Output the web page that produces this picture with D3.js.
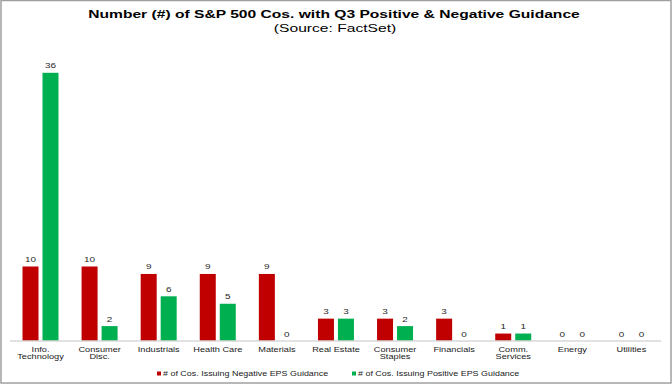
<!DOCTYPE html>
<html>
<head>
<meta charset="utf-8">
<script src="https://cdn.jsdelivr.net/npm/d3@7"></script>
<style>
  body { margin: 0; background: #fff; }
  svg { display: block; font-family: "Liberation Sans", Arial, sans-serif; }
</style>
</head>
<body>
<div id="chart"></div>
<script>
// data
let categories = ["Info.\nTechnology", "Consumer\nDisc.", "Industrials", "Health Care", "Materials",
    "Real Estate", "Consumer\nStaples", "Financials", "Comm.\nServices", "Energy", "Utilities"];
let negative = [10, 10, 9, 9, 9, 3, 3, 3, 1, 0, 0];
let positive = [36, 2, 6, 5, 0, 3, 2, 0, 1, 0, 0];
let seriesNames = ["# of Cos. Issuing Negative EPS Guidance", "# of Cos. Issuing Positive EPS Guidance"];
let colors = ["#c00000", "#00b050"];

let width = 672, height = 384;
// the source picture is stretched sideways, so text gets stretched too
let SX = 1.42;

let svg = d3.select("#chart").append("svg")
    .attr("width", width)
    .attr("height", height);

// outer frame
svg.append("rect")
    .attr("x", 1).attr("y", 0.5)
    .attr("width", 670).attr("height", 382.5)
    .attr("fill", "none")
    .attr("stroke", "#a0a0a0")
    .attr("stroke-width", 1.5);

function wideText(g, x, y, size) {
    return g.append("text")
        .attr("transform", `translate(${x},${y}) scale(${SX},1)`)
        .attr("font-size", size);
}

// titles
wideText(svg, 334, 17.5, 11).attr("text-anchor", "middle")
    .attr("font-weight", "bold").attr("fill", "#000")
    .text("Number (#) of S&P 500 Cos. with Q3 Positive & Negative Guidance");
wideText(svg, 335, 32, 11).attr("text-anchor", "middle")
    .attr("fill", "#000")
    .text("(Source: FactSet)");

let x = d3.scaleBand()
    .domain(categories)
    .range([11, 661]);

let x1 = d3.scaleBand()
    .domain([0, 1])
    .range([11.5, 47.5])
    .paddingInner(0.2);

let y = d3.scaleLinear()
    .domain([0, 40])
    .range([341, 43]);

let rows = categories.map((c, i) => ({ cat: c, vals: [negative[i], positive[i]] }));

let groups = svg.selectAll(".cat")
    .data(rows)
    .join("g")
    .attr("class", "cat")
    .attr("transform", d => `translate(${x(d.cat)},0)`);

groups.selectAll("rect")
    .data(d => d.vals)
    .join("rect")
    .attr("x", (d, i) => x1(i))
    .attr("y", d => y(d))
    .attr("width", x1.bandwidth())
    .attr("height", d => y(0) - y(d))
    .attr("fill", (d, i) => colors[i]);

// value labels
groups.each(function(d) {
    let g = d3.select(this);
    d.vals.forEach((v, i) => {
        wideText(g, x1(i) + x1.bandwidth() / 2, y(v) - 4.5, 7)
            .attr("text-anchor", "middle")
            .attr("fill", "#262626")
            .text(v);
    });
});

// axis line
svg.append("line")
    .attr("x1", 10).attr("x2", 661)
    .attr("y1", y(0)).attr("y2", y(0))
    .attr("stroke", "#d9d9d9")
    .attr("stroke-width", 1.5);

// category labels
categories.forEach(c => {
    let t = wideText(svg, x(c) + x.bandwidth() / 2, 352, 6.5)
        .attr("text-anchor", "middle")
        .attr("fill", "#1a1a1a");
    c.split("\n").forEach((line, j) => {
        t.append("tspan").attr("x", 0).attr("dy", j ? 7.5 : 0).text(line);
    });
});

// legend
let legendX = [157, 352];
seriesNames.forEach((name, i) => {
    svg.append("rect")
        .attr("x", legendX[i]).attr("y", 371.5)
        .attr("width", 4).attr("height", 4)
        .attr("fill", colors[i]);
    wideText(svg, legendX[i] + 6, 376, 6.3)
        .attr("fill", "#1a1a1a")
        .text(name);
});
</script>
</body>
</html>
